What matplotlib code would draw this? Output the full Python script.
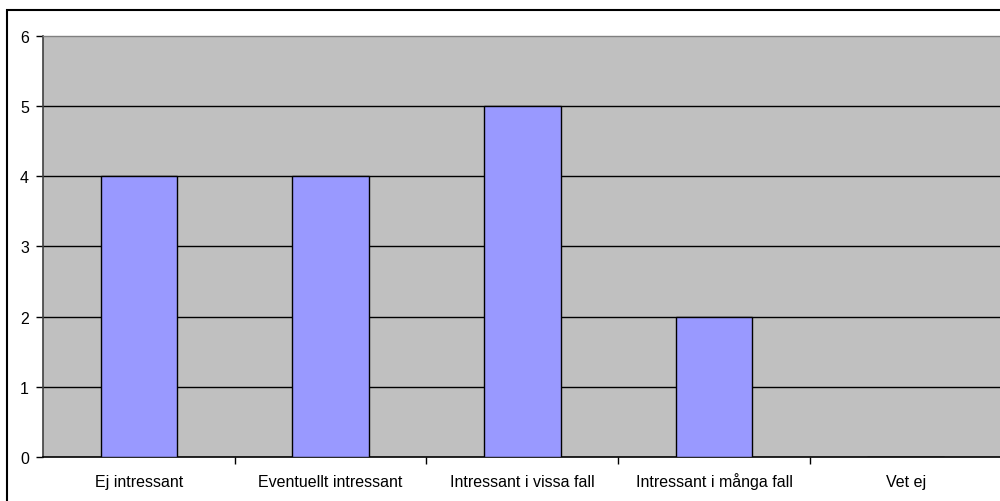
import matplotlib

matplotlib.use("Agg")
import matplotlib.pyplot as plt
from matplotlib.patches import Rectangle

categories = ["Ej intressant", "Eventuellt intressant", "Intressant i vissa fall",
              "Intressant i många fall", "Vet ej"]
counts = [4, 4, 5, 2, 0]
y_ticks = [0, 1, 2, 3, 4, 5, 6]

_BAR = "#9999ff"
_PLOT_BG = "#c0c0c0"

plt.rcParams["font.family"] = ["Liberation Sans", "DejaVu Sans"]
plt.rcParams["font.size"] = 11.5

fig = plt.figure(figsize=(10.0, 5.02), dpi=100)

# outer chart frame (runs off the right and bottom edges)
fig.patches.append(Rectangle((0.007, -0.1), 1.2, 1.0 - 11 / 502 + 0.1,
                             transform=fig.transFigure, fill=False,
                             edgecolor="black", linewidth=1.5))

ax = fig.add_axes([0.043, 0.0876, 0.9585, 0.9264 - 0.0876])
ax.set_facecolor(_PLOT_BG)

x = list(range(len(categories)))
ax.bar(x, counts, width=0.4, color=_BAR, edgecolor="black", linewidth=1.0, zorder=3)

ax.set_xlim(-0.5, len(categories) - 0.5)
ax.set_ylim(0, 6)
ax.set_yticks(y_ticks)
for v in y_ticks[1:-1]:
    ax.axhline(v, color="black", linewidth=1.0, zorder=2)

# category labels centred on a common baseline, tick marks on the boundaries
ax.set_xticks(x)
ax.set_xticklabels(categories, va="baseline")
ax.tick_params(axis="x", which="major", length=0, pad=21)
ax.set_xticks([i + 0.5 for i in x[:-1]], minor=True)
ax.tick_params(axis="x", which="minor", length=5, width=1, color="black", direction="out")
ax.tick_params(axis="y", length=5, width=1, color="black", direction="out", pad=5)

ax.spines["right"].set_visible(False)
ax.spines["top"].set_color("#808080")
ax.spines["left"].set_color("#404040")
ax.spines["bottom"].set_color("black")
ax.spines["left"].set_linewidth(1.2)
ax.spines["bottom"].set_linewidth(1.2)
ax.spines["top"].set_linewidth(1.0)

fig.savefig("out.png", dpi=100)
plt.close(fig)
